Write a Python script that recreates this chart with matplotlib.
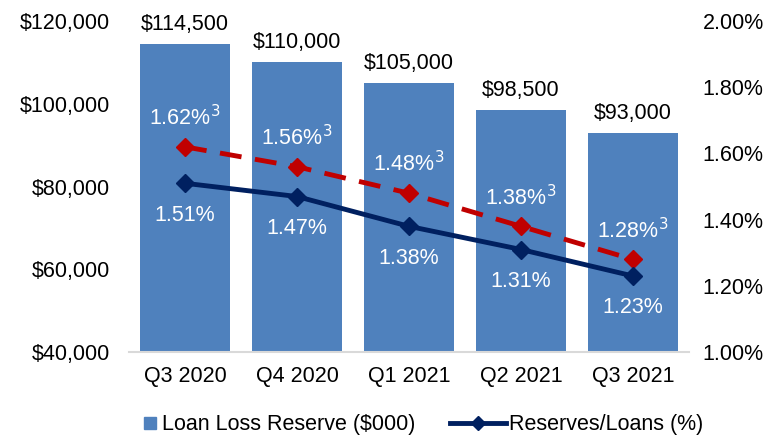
import matplotlib.pyplot as plt
from matplotlib.lines import Line2D
from matplotlib.ticker import FuncFormatter

plt.rcParams['font.family'] = ['Liberation Sans', 'DejaVu Sans']

quarters = ["Q3 2020", "Q4 2020", "Q1 2021", "Q2 2021", "Q3 2021"]
reserve = [114500, 110000, 105000, 98500, 93000]
ratio = [1.51, 1.47, 1.38, 1.31, 1.23]
ratio_adj = [1.62, 1.56, 1.48, 1.38, 1.28]

bar_color = "#4F81BD"
navy = "#002060"
red = "#C00000"
fs = 15.5

fig = plt.figure(figsize=(7.82, 4.38), dpi=100)
ax = fig.add_axes([0.165, 0.196, 0.716, 0.756])
x = range(len(quarters))

ax.bar(x, [r - 40000 for r in reserve], bottom=40000, width=0.8,
       color=bar_color, zorder=1)
ax.set_ylim(40000, 120000)
ax.set_xlim(-0.5, 4.5)
ax.set_yticks(range(40000, 120001, 20000))
ax.yaxis.set_major_formatter(FuncFormatter(lambda v, p: "${:,.0f}".format(v)))
ax.set_xticks(list(x))
ax.set_xticklabels(quarters)
for s in ax.spines.values():
    s.set_visible(False)
ax.spines['bottom'].set_visible(True)
ax.spines['bottom'].set_color("#d9d9d9")
ax.spines['bottom'].set_linewidth(1.5)
ax.tick_params(length=0, labelsize=fs, pad=14)
ax.tick_params(axis='x', pad=10)

for i, r in enumerate(reserve):
    ax.annotate("${:,.0f}".format(r), (i, r), xytext=(0, 14), textcoords="offset points",
                ha="center", va="center", fontsize=fs)

ax2 = ax.twinx()
ax2.set_ylim(1.0, 2.0)
ax2.set_yticks([1.0, 1.2, 1.4, 1.6, 1.8, 2.0])
ax2.yaxis.set_major_formatter(FuncFormatter(lambda v, p: "{:.2f}%".format(v)))
for s in ax2.spines.values():
    s.set_visible(False)
ax2.tick_params(length=0, labelsize=fs, pad=10)

ax2.plot(x, ratio_adj, color=red, lw=3.5, ls=(0, (4.5, 2.8)), marker="D", ms=9, zorder=3)
ax2.plot(x, ratio, color=navy, lw=3.5, marker="D", ms=9, zorder=4)

for i, v in enumerate(ratio_adj):
    ax2.annotate("{:.2f}%$^{{3}}$".format(v), (i, v), xytext=(0, 21), textcoords="offset points",
                 ha="center", va="center", fontsize=fs, color="white")
for i, v in enumerate(ratio):
    ax2.annotate("{:.2f}%".format(v), (i, v), xytext=(0, -23), textcoords="offset points",
                 ha="center", va="center", fontsize=fs, color="white")

h_bar = Line2D([], [], color=bar_color, marker="s", ls="none", ms=8)
h_line = Line2D([], [], color=navy, lw=3.5, marker="D", ms=7)
leg1 = fig.legend([h_bar], ["Loan Loss Reserve ($000)"], loc="center left",
                  bbox_to_anchor=(0.1816, 0.03), frameon=False, fontsize=fs,
                  handlelength=0.75, handletextpad=0.2, borderpad=0, borderaxespad=0)
fig.legend([h_line], ["Reserves/Loans (%)"], loc="center left",
           bbox_to_anchor=(0.5754, 0.03), frameon=False, fontsize=fs,
           handlelength=2.6, handletextpad=0.15, borderpad=0, borderaxespad=0)

fig.savefig("out.png", dpi=100)
